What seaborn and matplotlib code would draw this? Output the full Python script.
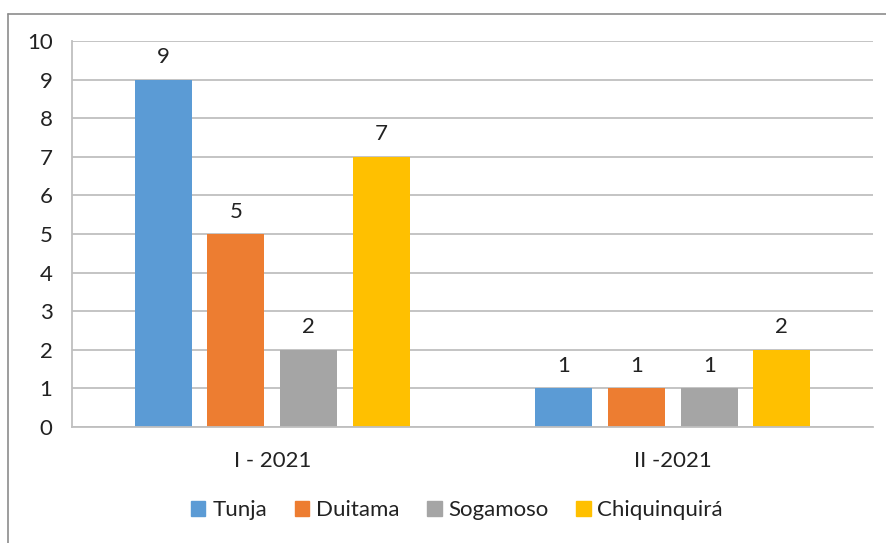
import pandas as pd
import matplotlib.pyplot as plt
import seaborn as sns
from matplotlib.lines import Line2D

# datos
periodos = ["I - 2021", "II -2021"]
ciudades = ["Tunja", "Duitama", "Sogamoso", "Chiquinquirá"]
tunja = [9, 1]
duitama = [5, 1]
sogamoso = [2, 1]
chiquinquira = [7, 2]
colores = ["#5B9BD5", "#ED7D31", "#A5A5A5", "#FFC000"]

df = pd.DataFrame({
    "periodo": periodos * 4,
    "ciudad": [c for c in ciudades for _ in periodos],
    "valor": tunja + duitama + sogamoso + chiquinquira,
})

sns.set_style("white")
plt.rcParams["font.family"] = ["Lato", "DejaVu Sans"]

fig = plt.figure(figsize=(8.86, 5.43), dpi=100)
ax = fig.add_axes([72 / 886, 1 - 427 / 543, 801 / 886, 386 / 543])

sns.barplot(data=df, x="periodo", y="valor", hue="ciudad", palette=colores,
            width=0.727, gap=0.216, saturation=1, linewidth=0, ax=ax, legend=False)

for cont in ax.containers:
    ax.bar_label(cont, padding=9, fontsize=16, color="#222222")

ax.set_ylim(0, 10)
ax.set_xlim(-0.5, 1.5)
ax.set_yticks(range(0, 11))
ax.yaxis.grid(True, color="#BFBFBF", linewidth=1.3)
ax.set_axisbelow(True)
ax.set_xlabel("")
ax.set_ylabel("")
ax.tick_params(axis="y", labelsize=16, colors="#222222", length=0, pad=14)
ax.tick_params(axis="x", labelsize=16, colors="#222222", length=0, pad=17)
for s in ["top", "right"]:
    ax.spines[s].set_visible(False)
ax.spines["left"].set_color("#BFBFBF")
ax.spines["bottom"].set_color("#BFBFBF")
ax.spines["left"].set_linewidth(1.3)
ax.spines["bottom"].set_linewidth(1.3)

handles = [plt.Rectangle((0, 0), 1, 1, color=c) for c in colores]
fig.legend(handles, ciudades, loc="center", bbox_to_anchor=(457 / 886, 1 - 510 / 543),
           ncol=4, frameon=False, fontsize=16, handlelength=0.65, handleheight=0.65,
           handletextpad=0.3, columnspacing=1.25, labelcolor="#222222")

# marco exterior
fig.add_artist(Line2D([8 / 886, 1], [1 - 14 / 543, 1 - 14 / 543], color="#8C8C8C", lw=1.2))
fig.add_artist(Line2D([8 / 886, 8 / 886], [0, 1 - 14 / 543], color="#8C8C8C", lw=1.2))

fig.savefig("out.png", dpi=100)
